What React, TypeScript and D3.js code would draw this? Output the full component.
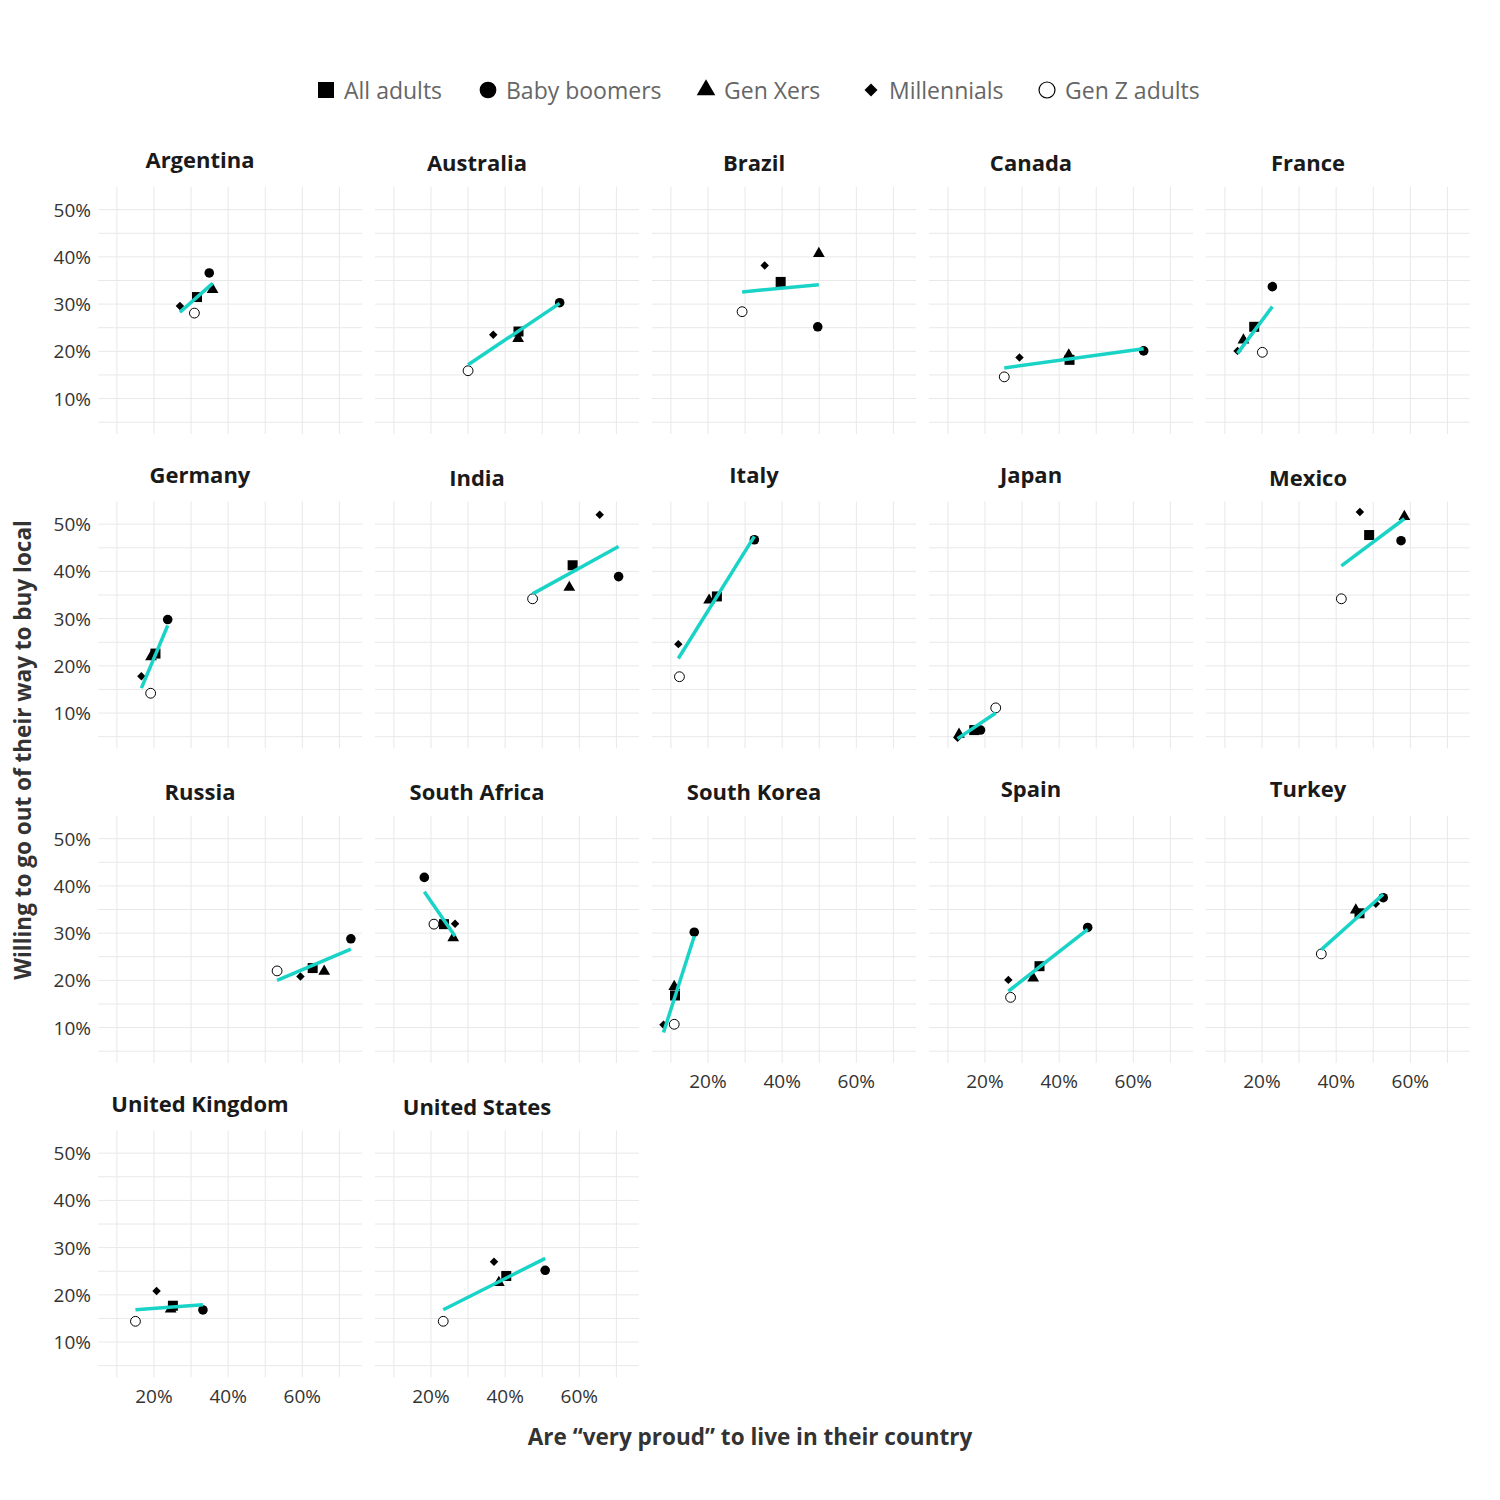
import React from 'react';
import * as d3 from 'd3';

// one entry per country, pairs are [very proud %, buy local %]
const countries = [
    'Argentina', 'Australia', 'Brazil', 'Canada', 'France',
    'Germany', 'India', 'Italy', 'Japan', 'Mexico',
    'Russia', 'South Africa', 'South Korea', 'Spain', 'Turkey',
    'United Kingdom', 'United States',
];

const allAdults: [number, number][] = [
    [31.6, 31.5], [43.6, 24.2], [39.6, 34.7], [42.8, 18.2], [17.9, 25.2],
    [20.4, 22.6], [58.2, 41.3], [22.4, 34.7], [17.1, 6.4], [48.9, 47.7],
    [62.8, 22.6], [23.5, 31.9], [11.1, 16.8], [34.7, 23.0], [46.3, 34.2],
    [25.1, 17.7], [40.3, 24.0],
];
const babyBoomers: [number, number][] = [
    [34.9, 36.6], [54.7, 30.3], [49.6, 25.2], [62.8, 20.1], [22.8, 33.7],
    [23.7, 29.8], [70.6, 38.9], [32.5, 46.7], [18.8, 6.4], [57.5, 46.5],
    [73.1, 28.8], [18.2, 41.8], [16.3, 30.2], [47.7, 31.2], [52.7, 37.5],
    [33.2, 16.8], [50.8, 25.2],
];
const genXers: [number, number][] = [
    [35.8, 33.1], [43.5, 22.7], [49.9, 40.7], [42.6, 19.2], [15.0, 22.4],
    [19.2, 21.9], [57.3, 36.6], [20.3, 33.9], [13.0, 5.5], [58.4, 51.6],
    [65.9, 21.9], [26.0, 29.0], [10.9, 18.7], [33.0, 20.5], [45.3, 34.9],
    [24.5, 17.0], [38.3, 22.6],
];
const millennials: [number, number][] = [
    [27.0, 29.6], [36.8, 23.5], [35.3, 38.2], [29.3, 18.7], [13.4, 20.1],
    [16.6, 17.8], [65.5, 52.0], [12.0, 24.6], [12.6, 4.8], [46.4, 52.6],
    [59.5, 20.8], [26.5, 32.0], [8.0, 10.6], [26.3, 20.1], [50.7, 36.2],
    [20.7, 20.8], [37.0, 27.0],
];
const genZAdults: [number, number][] = [
    [30.9, 28.1], [30.0, 15.9], [29.2, 28.4], [25.2, 14.6], [20.1, 19.8],
    [19.1, 14.2], [47.4, 34.2], [12.3, 17.7], [22.9, 11.1], [41.4, 34.2],
    [53.2, 22.0], [20.8, 31.9], [10.9, 10.7], [26.9, 16.4], [36.0, 25.6],
    [15.0, 14.4], [23.3, 14.4],
];

const seriesNames = ['All adults', 'Baby boomers', 'Gen Xers', 'Millennials', 'Gen Z adults'];
const xTicks = [20, 40, 60];
const yTicks = [10, 20, 30, 40, 50];

const FONT = "'Open Sans', 'Noto Sans', sans-serif";
const LINE_COLOR = '#1ad3c7';
const GRID = '#e8e8e8';

const COLS = 5;
const PANEL_W = 264;
const PANEL_H = 247;
const LEFT0 = 98;
const TOP0 = 187;
const STEP_X = 277;
const STEP_Y = 314.5;

const series = [
    { data: allAdults, shape: d3.symbolSquare, size: 100, legendSize: 256, rotate: 0, fill: '#000' },
    { data: babyBoomers, shape: d3.symbolCircle, size: 72, legendSize: 220, rotate: 0, fill: '#000' },
    { data: genXers, shape: d3.symbolTriangle, size: 60, legendSize: 150, rotate: 0, fill: '#000' },
    { data: millennials, shape: d3.symbolSquare, size: 36, legendSize: 85, rotate: 45, fill: '#000' },
    { data: genZAdults, shape: d3.symbolCircle, size: 76, legendSize: 200, rotate: 0, fill: '#fff' },
];

const legendX = [326, 488, 706, 871, 1047];

const x = d3.scaleLinear().domain([4.9, 76.1]).range([0, PANEL_W]);
const y = d3.scaleLinear().domain([2.5, 54.8]).range([PANEL_H, 0]);

const fitLine = (pts: [number, number][]) => {
    const mx = d3.mean(pts, (p) => p[0])!;
    const my = d3.mean(pts, (p) => p[1])!;
    const sxy = d3.sum(pts, (p) => (p[0] - mx) * (p[1] - my));
    const sxx = d3.sum(pts, (p) => (p[0] - mx) ** 2);
    const slope = sxy / sxx;
    const [x0, x1] = d3.extent(pts, (p) => p[0]) as [number, number];
    return [
        [x0, my + slope * (x0 - mx)],
        [x1, my + slope * (x1 - mx)],
    ];
};

const Panel: React.FC<{ index: number }> = ({ index }) => {
    const col = index % COLS;
    const row = Math.floor(index / COLS);
    const left = LEFT0 + col * STEP_X;
    const top = TOP0 + row * STEP_Y;
    const name = countries[index];
    const pts = series.map((s) => s.data[index]);
    const fit = fitLine(pts);
    const hasBelow = index + COLS < countries.length;
    const descender = /[gjpqy]/.test(name) && name !== 'South Korea';

    return (
        <g transform={`translate(${left},${top})`}>
            <text
                x={PANEL_W / 2 - 30}
                y={descender ? -28 : -25}
                textAnchor="middle"
                dominantBaseline="central"
                fontFamily={FONT}
                fontWeight={700}
                fontSize={22}
                fill="#1a1a1a"
            >
                {name}
            </text>
            {d3.range(5, 55, 5).map((v) => (
                <line key={`h${v}`} x1={0} x2={PANEL_W} y1={y(v)} y2={y(v)} stroke={GRID} strokeWidth={1} />
            ))}
            {d3.range(10, 80, 10).map((v) => (
                <line key={`v${v}`} x1={x(v)} x2={x(v)} y1={0} y2={PANEL_H} stroke={GRID} strokeWidth={1} />
            ))}
            {col === 0 &&
                yTicks.map((v) => (
                    <text
                        key={`yt${v}`}
                        x={-7}
                        y={y(v)}
                        textAnchor="end"
                        dominantBaseline="central"
                        fontFamily={FONT}
                        fontSize={19}
                        fill="#333"
                    >
                        {v}%
                    </text>
                ))}
            {!hasBelow &&
                xTicks.map((v) => (
                    <text
                        key={`xt${v}`}
                        x={x(v)}
                        y={PANEL_H + 18}
                        textAnchor="middle"
                        dominantBaseline="central"
                        fontFamily={FONT}
                        fontSize={19}
                        fill="#333"
                    >
                        {v}%
                    </text>
                ))}
            {series.map((s, i) => {
                const p = s.data[index];
                return (
                    <path
                        key={`pt${i}`}
                        d={d3.symbol(s.shape, s.size)()!}
                        transform={`translate(${x(p[0])},${y(p[1])}) rotate(${s.rotate})`}
                        fill={s.fill}
                        stroke="#000"
                        strokeWidth={i === 4 ? 1 : 0}
                    />
                );
            })}
            <line
                x1={x(fit[0][0])}
                y1={y(fit[0][1])}
                x2={x(fit[1][0])}
                y2={y(fit[1][1])}
                stroke={LINE_COLOR}
                strokeWidth={3.5}
            />
        </g>
    );
};

const App: React.FC = () => {
    return (
        <svg
            width={1500}
            height={1500}
            style={{ position: 'absolute', left: 0, top: 0, background: '#fff' }}
        >
            <rect width={1500} height={1500} fill="#fff" />
            {seriesNames.map((n, i) => {
                const s = series[i];
                return (
                    <g key={n} transform={`translate(${legendX[i]},90)`}>
                        <path
                            d={d3.symbol(s.shape, s.legendSize)()!}
                            transform={`rotate(${s.rotate})`}
                            fill={s.fill}
                            stroke="#000"
                            strokeWidth={i === 4 ? 1.2 : 0}
                        />
                        <text
                            x={18}
                            y={0}
                            dominantBaseline="central"
                            fontFamily={FONT}
                            fontSize={23}
                            fill="#666"
                        >
                            {n}
                        </text>
                    </g>
                );
            })}
            {countries.map((c, i) => (
                <Panel key={c} index={i} />
            ))}
            <text
                transform="translate(22,750) rotate(-90)"
                textAnchor="middle"
                dominantBaseline="central"
                fontFamily={FONT}
                fontWeight={700}
                fontSize={22.5}
                fill="#333"
            >
                Willing to go out of their way to buy local
            </text>
            <text
                x={750}
                y={1436}
                textAnchor="middle"
                dominantBaseline="central"
                fontFamily={FONT}
                fontWeight={700}
                fontSize={22.5}
                fill="#333"
            >
                Are “very proud” to live in their country
            </text>
        </svg>
    );
};

export default App;
